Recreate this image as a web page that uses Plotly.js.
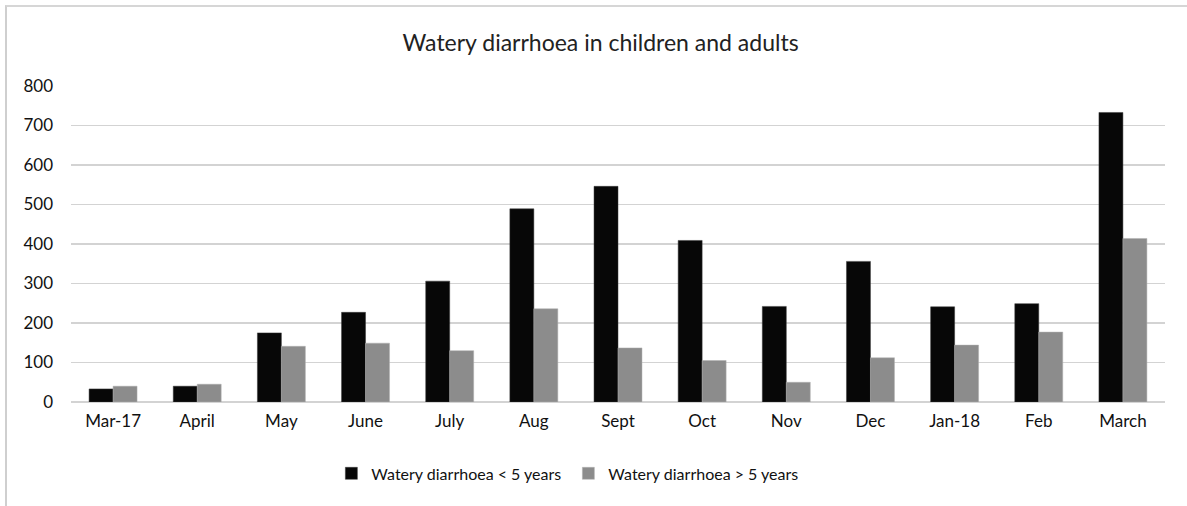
<!DOCTYPE html>
<html>
<head>
<meta charset="utf-8">
<script src="https://cdn.plot.ly/plotly-3.0.1.min.js"></script>
<style>
  html, body { margin: 0; padding: 0; background: #fff; }
  #frame { position: absolute; left: 5px; top: 5px; width: 1182px; height: 501px;
           border-left: 2px solid #cfcfcf; border-top: 2px solid #d6d6d6; box-sizing: border-box; pointer-events: none; }
  #chart { width: 1187px; height: 506px; }
</style>
</head>
<body>
<div id="chart"></div>
<div id="frame"></div>
<script>
const categories = ["Mar-17", "April", "May", "June", "July", "Aug", "Sept", "Oct", "Nov", "Dec", "Jan-18", "Feb", "March"];
const under5 = [33, 40, 175, 227, 306, 489, 546, 409, 242, 356, 241, 249, 733];
const over5 = [40, 45, 141, 149, 130, 236, 137, 105, 50, 112, 144, 177, 414];
const seriesNames = ["Watery diarrhoea < 5 years", "Watery diarrhoea > 5 years"];
const yTicks = [0, 100, 200, 300, 400, 500, 600, 700, 800];

const font = "Lato, 'Open Sans', sans-serif";

const data = [
  { type: "bar", name: seriesNames[0], x: categories, y: under5,
    marker: { color: "#070707", line: { color: "#3a3a3a", width: 0.5 } } },
  { type: "bar", name: seriesNames[1], x: categories, y: over5,
    marker: { color: "#8c8c8c", line: { color: "#b0b0b0", width: 0.5 } } }
];

const layout = {
  width: 1187, height: 506,
  margin: { l: 71, r: 22, t: 86, b: 104 },
  paper_bgcolor: "#ffffff", plot_bgcolor: "#ffffff",
  barmode: "group", bargap: 0.43, bargroupgap: 0,
  title: { text: "Watery diarrhoea in children and adults", x: 0.506, xanchor: "center", y: 0.915, yanchor: "middle",
           font: { family: font, size: 23, color: "#222" } },
  xaxis: { type: "category", showgrid: false, zeroline: false, showline: false,
           ticks: "", tickfont: { family: font, size: 17, color: "#111" }, ticklabelstandoff: 7 },
  yaxis: { range: [0, 800], tickvals: yTicks, showgrid: true, gridcolor: "#d3d3d3", gridwidth: 1.5,
           zeroline: true, zerolinecolor: "#d3d3d3", zerolinewidth: 1.5, showline: false, ticks: "",
           tickfont: { family: font, size: 17, color: "#111" }, ticklabelstandoff: 17 },
  legend: { orientation: "h", x: 0.238, xanchor: "left", y: -0.226, yanchor: "middle",
            entrywidth: 192, entrywidthmode: "pixels",
            font: { family: font, size: 16, color: "#111" }, itemwidth: 30, tracegroupgap: 0 },
  showlegend: true
};

Plotly.newPlot("chart", data, layout, { displayModeBar: false, staticPlot: true });
</script>
</body>
</html>
